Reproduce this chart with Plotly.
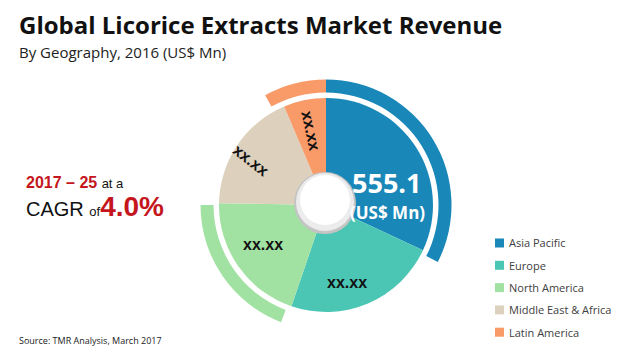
import math
import plotly.graph_objects as go

# ---- data ----
regions = ["Asia Pacific", "Europe", "North America", "Middle East & Africa", "Latin America"]
revenue = [555.1, 405.0, 348.0, 319.0, 111.0]   # US$ Mn, 2016 (only Asia Pacific is published)
slice_labels = ["", "xx.xx", "xx.xx", "xx.xx", "xx.xx"]
headline_value = "555.1"
cagr_period = "2017 – 25"
cagr_value = "4.0%"
# highlighted outer arcs (degrees clockwise from 12 o'clock)
arc_ranges = [("Asia Pacific", 0, 117), ("North America", 201, 270), ("Latin America", 331, 360)]

# ---- style ----
W, H = 620, 354
colors = {"Asia Pacific": "#1a87b9", "Europe": "#4cc6b4", "North America": "#a1e2a2",
          "Middle East & Africa": "#ddd1bd", "Latin America": "#f99a69"}
CX, CY, R = 326, 205, 107
R_ARC_IN, R_ARC_OUT = 112.5, 125.5
label_radius = [0, 80, 74, 87, 76]
label_shift = [0, 8, 3, -3, 0]      # degrees, nudges label off the slice mid-angle
label_angle = [0, 0, 0, 38, 78]
RED = "#c4161c"
FONT = "Open Sans"

def px(x):
    return x / W

def py(y):
    return 1 - y / H

def dom(r):
    return dict(x=[px(CX - r), px(CX + r)], y=[py(CY + r), py(CY - r)])

fig = go.Figure()

# main pie
fig.add_trace(go.Pie(
    labels=regions, values=revenue, sort=False, direction="clockwise", rotation=0,
    marker=dict(colors=[colors[r] for r in regions], line=dict(width=0)),
    textinfo="none", hoverinfo="label+value", domain=dom(R), showlegend=False))

# outer highlight arcs
arc_vals, arc_cols = [], []
pos = 0
for name, a0, a1 in arc_ranges:
    if a0 > pos:
        arc_vals.append(a0 - pos); arc_cols.append("rgba(0,0,0,0)")
    arc_vals.append(a1 - a0); arc_cols.append(colors[name])
    pos = a1
if pos < 360:
    arc_vals.append(360 - pos); arc_cols.append("rgba(0,0,0,0)")
fig.add_trace(go.Pie(
    values=arc_vals, sort=False, direction="clockwise", rotation=0, hole=R_ARC_IN / R_ARC_OUT,
    marker=dict(colors=arc_cols, line=dict(width=0)), textinfo="none", hoverinfo="skip",
    domain=dom(R_ARC_OUT), showlegend=False))

shapes = []
def circle(cx, cy, r, fill):
    shapes.append(dict(type="circle", xref="paper", yref="paper",
                       x0=px(cx - r), x1=px(cx + r), y0=py(cy + r), y1=py(cy - r),
                       fillcolor=fill, line=dict(width=0), layer="above"))
circle(CX - 1, CY - 2, 31, "#c4c4c4")
circle(CX - 1, CY - 3, 29, "#ececec")
circle(CX - 1, CY - 5, 25, "#ffffff")

annotations = []
def text(x, y, t, size, color="#000000", xanchor="left", yanchor="middle", family=FONT, angle=0):
    annotations.append(dict(x=px(x), y=py(y), xref="paper", yref="paper", text=t,
                            showarrow=False, xanchor=xanchor, yanchor=yanchor, textangle=angle,
                            font=dict(size=size, color=color, family=family)))

# slice labels
total = sum(revenue)
start = 0
for i, v in enumerate(revenue):
    span = v / total * 360
    mid = math.radians(start + span / 2 + label_shift[i])
    start += span
    if slice_labels[i]:
        text(CX + label_radius[i] * math.sin(mid), CY - label_radius[i] * math.cos(mid),
             "<b>" + slice_labels[i] + "</b>", 16, "#111111", "center", "middle",
             "Liberation Sans", label_angle[i])

text(386, 183, "<b>" + headline_value + "</b>", 27, "#ffffff", "center")
text(387, 212, "<b>(US$ Mn)</b>", 17, "#ffffff", "center")

# titles
text(17, 24, "<b>Global Licorice Extracts Market Revenue</b>", 24, "#111111")
text(17, 52, "By Geography, 2016 (US$ Mn)", 15, "#222222")
text(17, 340, "Source: TMR Analysis, March 2017", 9, "#222222")

# CAGR block
text(24, 183, "<b><span style='color:%s'>%s</span></b> <span style='font-size:13px'>at a</span>"
     % (RED, cagr_period), 16, "#111111", family="Liberation Sans")
text(24, 206, "CAGR <span style='font-size:13px'>of</span><b><span style='color:%s;font-size:28px'>%s</span></b>"
     % (RED, cagr_value), 20, "#111111", family="Liberation Sans")

# legend
for i, name in enumerate(regions):
    yc = 243 + i * 22.3
    shapes.append(dict(type="rect", xref="paper", yref="paper",
                       x0=px(495), x1=px(504), y0=py(yc + 4.5), y1=py(yc - 4.5),
                       fillcolor=colors[name], line=dict(width=0)))
    text(507, yc, name, 11, "#404040")

fig.update_layout(width=W, height=H, margin=dict(l=0, r=0, t=0, b=0),
                  paper_bgcolor="#ffffff", plot_bgcolor="#ffffff", showlegend=False,
                  shapes=shapes, annotations=annotations)
fig.write_html("out.html")
